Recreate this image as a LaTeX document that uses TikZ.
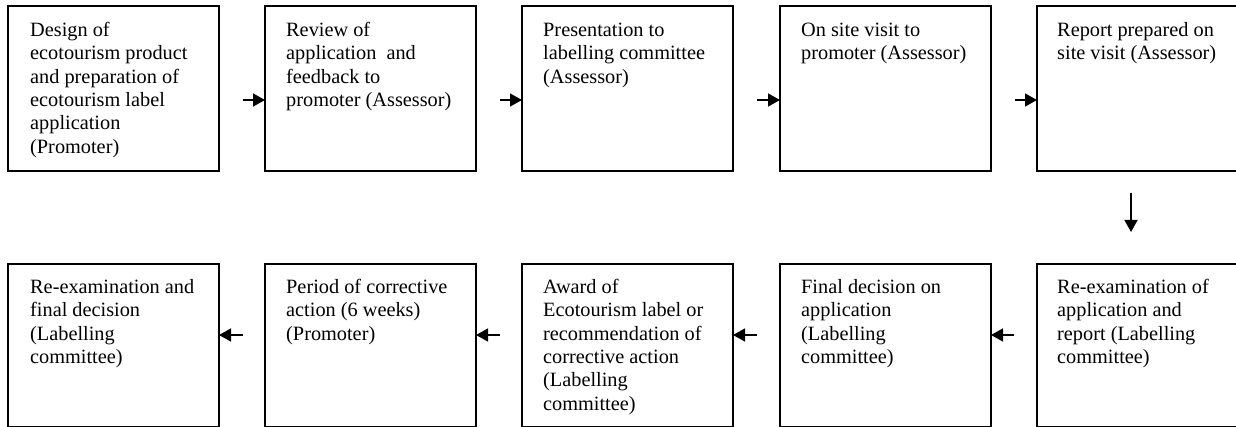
\documentclass[tikz,border=0pt]{standalone}
\usepackage{fontspec}
\setmainfont{Liberation Serif}
\usetikzlibrary{arrows.meta}
\begin{document}
\begin{tikzpicture}[x=1pt,y=-1pt,
  stepbox/.style={draw=black,line width=1.4pt,minimum width=211pt,minimum height=165pt,inner sep=0pt,outer sep=0pt,anchor=north west},
  lowbox/.style={stepbox,minimum height=163pt},
  label/.style={anchor=north west,inner sep=0pt,align=left,font=\fontsize{20.3pt}{23.3pt}\selectfont},
  arr/.style={line width=1.4pt,-{Triangle[length=12pt,width=13pt]}}]
\useasboundingbox (0,0) rectangle (1236,427);
% top row
\node[stepbox] (t1) at (8,6) {};
\node[stepbox] (t2) at (265,6) {};
\node[stepbox] (t3) at (522,6) {};
\node[stepbox] (t4) at (780,6) {};
\node[stepbox] (t5) at (1037,6) {};
\node[label] at ([shift={(22,14)}]t1.north west) {\strut Design of\\ecotourism product\\and preparation of\\ecotourism label\\application\\(Promoter)};
\node[label] at ([shift={(21,14)}]t2.north west) {\strut Review of\\application\ \ and\\feedback to\\promoter (Assessor)};
\node[label] at ([shift={(21,14)}]t3.north west) {\strut Presentation to\\labelling committee\\(Assessor)};
\node[label] at ([shift={(21,14)}]t4.north west) {\strut On site visit to\\promoter (Assessor)};
\node[label] at ([shift={(20,14)}]t5.north west) {\strut Report prepared on\\site visit (Assessor)};
% bottom row
\node[lowbox] (b5) at (8,264) {};
\node[lowbox] (b4) at (265,264) {};
\node[lowbox] (b3) at (522,264) {};
\node[lowbox] (b2) at (780,264) {};
\node[lowbox] (b1) at (1037,264) {};
\node[label] at ([shift={(22,13)}]b5.north west) {\strut Re-examination and\\final decision\\(Labelling\\committee)};
\node[label] at ([shift={(21,13)}]b4.north west) {\strut Period of corrective\\action (6 weeks)\\(Promoter)};
\node[label] at ([shift={(21,13)}]b3.north west) {\strut Award of\\Ecotourism label or\\recommendation of\\corrective action\\(Labelling\\committee)};
\node[label] at ([shift={(21,13)}]b2.north west) {\strut Final decision on\\application\\(Labelling\\committee)};
\node[label] at ([shift={(20,13)}]b1.north west) {\strut Re-examination of\\application and\\report (Labelling\\committee)};
% arrows top row
\coordinate (a12) at (243,100);
\coordinate (a23) at (500,100);
\coordinate (a34) at (757,100);
\coordinate (a45) at (1015,100);
\draw[arr] (a12) -- (a12 -| t2.west);
\draw[arr] (a23) -- (a23 -| t3.west);
\draw[arr] (a34) -- (a34 -| t4.west);
\draw[arr] (a45) -- (a45 -| t5.west);
% down arrow
\coordinate (d1) at (1131,193);
\draw[arr] (d1) -- (1131,232);
% bottom arrows
\coordinate (c12) at (1014,335);
\coordinate (c23) at (757,335);
\coordinate (c34) at (500,335);
\coordinate (c45) at (243,335);
\draw[arr] (c12) -- (c12 -| b2.east);
\draw[arr] (c23) -- (c23 -| b3.east);
\draw[arr] (c34) -- (c34 -| b4.east);
\draw[arr] (c45) -- (c45 -| b5.east);
\end{tikzpicture}
\end{document}
